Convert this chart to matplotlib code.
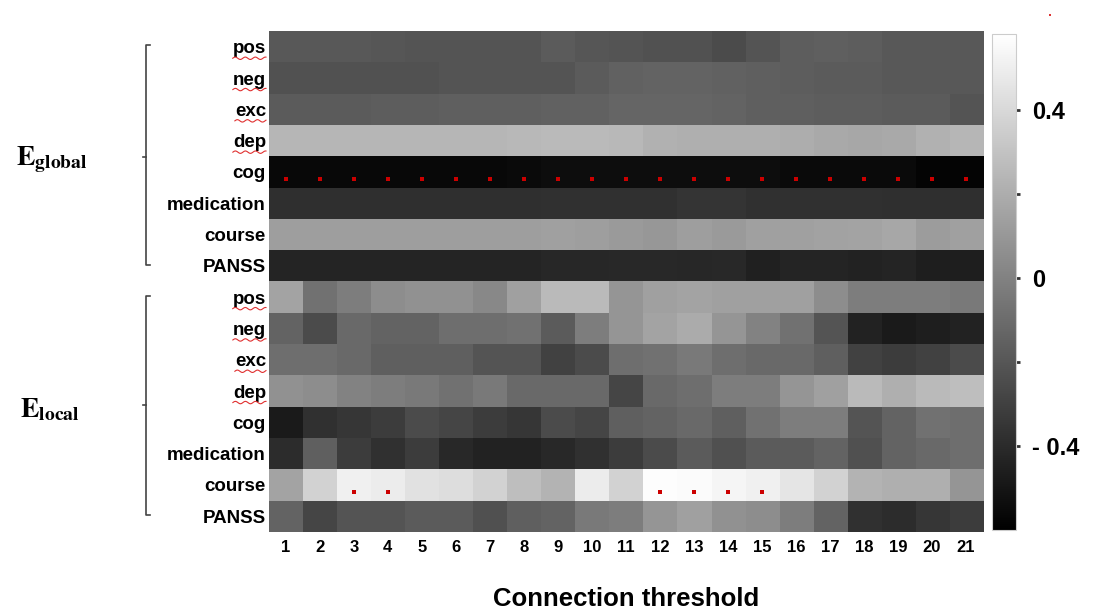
import numpy as np
import matplotlib.pyplot as plt
from matplotlib.lines import Line2D

plt.rcParams['font.family'] = ['Liberation Sans', 'DejaVu Sans']
plt.rcParams['mathtext.fontset'] = 'stix'

# 行ラベル・列ラベル
row_names = ['pos', 'neg', 'exc', 'dep', 'cog', 'medication', 'course', 'PANSS']
thresholds = list(range(1, 22))

# E_global の相関値
g_pos = [-0.19, -0.19, -0.19, -0.20, -0.21, -0.21, -0.21, -0.21, -0.18, -0.20, -0.21,
         -0.22, -0.22, -0.25, -0.21, -0.17, -0.16, -0.17, -0.19, -0.19, -0.19]
g_neg = [-0.22, -0.22, -0.22, -0.22, -0.22, -0.21, -0.21, -0.21, -0.21, -0.18, -0.15,
         -0.14, -0.14, -0.15, -0.16, -0.17, -0.18, -0.18, -0.19, -0.19, -0.19]
g_exc = [-0.18, -0.18, -0.18, -0.17, -0.17, -0.16, -0.16, -0.16, -0.15, -0.15, -0.13,
         -0.13, -0.13, -0.14, -0.16, -0.16, -0.17, -0.17, -0.18, -0.18, -0.21]
g_dep = [0.24, 0.24, 0.24, 0.24, 0.24, 0.24, 0.24, 0.25, 0.26, 0.26, 0.25,
         0.22, 0.21, 0.21, 0.21, 0.20, 0.18, 0.17, 0.18, 0.22, 0.24]
g_cog = [-0.56, -0.56, -0.56, -0.56, -0.56, -0.56, -0.56, -0.55, -0.54, -0.54, -0.54,
         -0.54, -0.54, -0.54, -0.54, -0.55, -0.55, -0.55, -0.55, -0.58, -0.58]
g_med = [-0.38, -0.38, -0.38, -0.38, -0.38, -0.38, -0.38, -0.38, -0.37, -0.37, -0.37,
         -0.37, -0.36, -0.36, -0.37, -0.37, -0.37, -0.37, -0.38, -0.38, -0.38]
g_course = [0.13, 0.13, 0.13, 0.13, 0.13, 0.13, 0.13, 0.13, 0.14, 0.13, 0.11,
            0.10, 0.13, 0.11, 0.14, 0.14, 0.15, 0.16, 0.17, 0.12, 0.14]
g_panss = [-0.43, -0.43, -0.43, -0.43, -0.43, -0.43, -0.43, -0.43, -0.42, -0.42, -0.41,
           -0.41, -0.42, -0.41, -0.45, -0.43, -0.43, -0.44, -0.43, -0.46, -0.46]

# E_local の相関値
l_pos = [0.16, -0.07, -0.02, 0.05, 0.07, 0.07, 0.03, 0.14, 0.26, 0.26, 0.09,
         0.14, 0.16, 0.14, 0.14, 0.14, 0.05, -0.02, -0.02, -0.02, -0.04]
l_neg = [-0.14, -0.25, -0.11, -0.14, -0.14, -0.09, -0.09, -0.07, -0.18, -0.02, 0.09,
         0.16, 0.19, 0.09, 0.00, -0.07, -0.21, -0.44, -0.48, -0.46, -0.44]
l_exc = [-0.09, -0.09, -0.11, -0.16, -0.16, -0.16, -0.21, -0.21, -0.30, -0.25, -0.09,
         -0.07, -0.04, -0.09, -0.11, -0.11, -0.16, -0.30, -0.32, -0.30, -0.25]
l_dep = [0.07, 0.05, 0.00, -0.02, -0.04, -0.07, -0.04, -0.11, -0.11, -0.11, -0.28,
         -0.11, -0.09, -0.02, -0.02, 0.09, 0.14, 0.26, 0.21, 0.26, 0.28]
l_cog = [-0.48, -0.37, -0.35, -0.32, -0.25, -0.28, -0.32, -0.35, -0.25, -0.28, -0.16,
         -0.14, -0.11, -0.16, -0.07, -0.02, -0.02, -0.21, -0.14, -0.07, -0.09]
l_med = [-0.39, -0.16, -0.32, -0.37, -0.32, -0.41, -0.44, -0.44, -0.41, -0.37, -0.32,
         -0.25, -0.18, -0.23, -0.18, -0.18, -0.14, -0.23, -0.14, -0.11, -0.09]
l_course = [0.16, 0.37, 0.51, 0.49, 0.44, 0.42, 0.37, 0.28, 0.23, 0.49, 0.37,
            0.57, 0.56, 0.53, 0.51, 0.46, 0.37, 0.23, 0.21, 0.21, 0.09]
l_panss = [-0.14, -0.28, -0.21, -0.21, -0.18, -0.18, -0.23, -0.16, -0.14, -0.04, -0.02,
           0.09, 0.14, 0.07, 0.05, -0.02, -0.14, -0.37, -0.39, -0.35, -0.32]

# 有意なセル
sig_global_cog = thresholds
sig_local_course = [3, 4, 12, 13, 14, 15]

data = np.array([g_pos, g_neg, g_exc, g_dep, g_cog, g_med, g_course, g_panss,
                 l_pos, l_neg, l_exc, l_dep, l_cog, l_med, l_course, l_panss])
labels = row_names + row_names

fig = plt.figure(figsize=(10.97, 6.10), dpi=100)
ax = fig.add_axes([0.245, 0.128, 0.651, 0.821])
im = ax.imshow(data, cmap='gray', vmin=-0.6, vmax=0.58, aspect='auto',
               interpolation='nearest')

# 有意マーク
ax.plot([t - 1 for t in sig_global_cog], [4 + 0.22] * len(sig_global_cog), 's',
        color='#cc0000', ms=3, mew=0)
ax.plot([t - 1 for t in sig_local_course], [14 + 0.22] * len(sig_local_course), 's',
        color='#cc0000', ms=3, mew=0)

ax.set_xticks(range(len(thresholds)))
ax.set_xticklabels(thresholds, fontsize=12, fontweight='bold')
ax.set_yticks(range(len(labels)))
ax.set_yticklabels(labels, fontsize=13.5, fontweight='bold')
ax.tick_params(axis='y', length=0, pad=2)
ax.tick_params(axis='x', length=0, pad=6)
for s in ax.spines.values():
    s.set_visible(False)
ax.set_xlabel('Connection threshold', fontsize=18.5, fontweight='bold', labelpad=23)

# カラーバー
cax = fig.add_axes([0.904, 0.131, 0.022, 0.813])
cb = fig.colorbar(im, cax=cax, ticks=[-0.4, -0.2, 0, 0.2, 0.4])
cb.ax.set_yticklabels(['- 0.4', '', '0', '', '0.4'], fontsize=17, fontweight='bold')
cb.ax.tick_params(length=3, width=2, pad=9, color='#333333')
cb.outline.set_edgecolor('#cccccc')

# スペルチェックの赤い波線
fig.canvas.draw()
renderer = fig.canvas.get_renderer()
W, H = fig.bbox.width, fig.bbox.height
for lab in ax.get_yticklabels():
    if lab.get_text() in ('pos', 'neg', 'exc', 'dep'):
        bb = lab.get_window_extent(renderer)
        xs = np.linspace(bb.x0, bb.x1, 40)
        ys = bb.y0 - 1 + 1.2 * np.sin((xs - bb.x0) / 1.6)
        fig.add_artist(Line2D(xs / W, ys / H, color='#e03030', lw=0.8))

# 左側の括弧とラベル
def bracket(y0, y1, ymid):
    x = 146 / 1097
    fig.add_artist(Line2D([x + 0.004, x, x, x + 0.004],
                          [1 - y0 / 610, 1 - y0 / 610, 1 - y1 / 610, 1 - y1 / 610],
                          color='#444444', lw=1.2))
    fig.add_artist(Line2D([x - 0.003, x], [1 - ymid / 610, 1 - ymid / 610],
                          color='#444444', lw=1.2))

bracket(45, 265, 157)
bracket(296, 515, 405)
fig.text(0.015, 1 - 160 / 610, r'$\mathbf{E_{global}}$', fontsize=20, va='center')
fig.text(0.018, 1 - 410 / 610, r'$\mathbf{E_{local}}$', fontsize=20, va='center')
fig.add_artist(Line2D([1050 / 1097], [1 - 15 / 610], marker='s', ms=2,
                      color='#dd3333', mew=0))

fig.savefig('out.png', dpi=100)
